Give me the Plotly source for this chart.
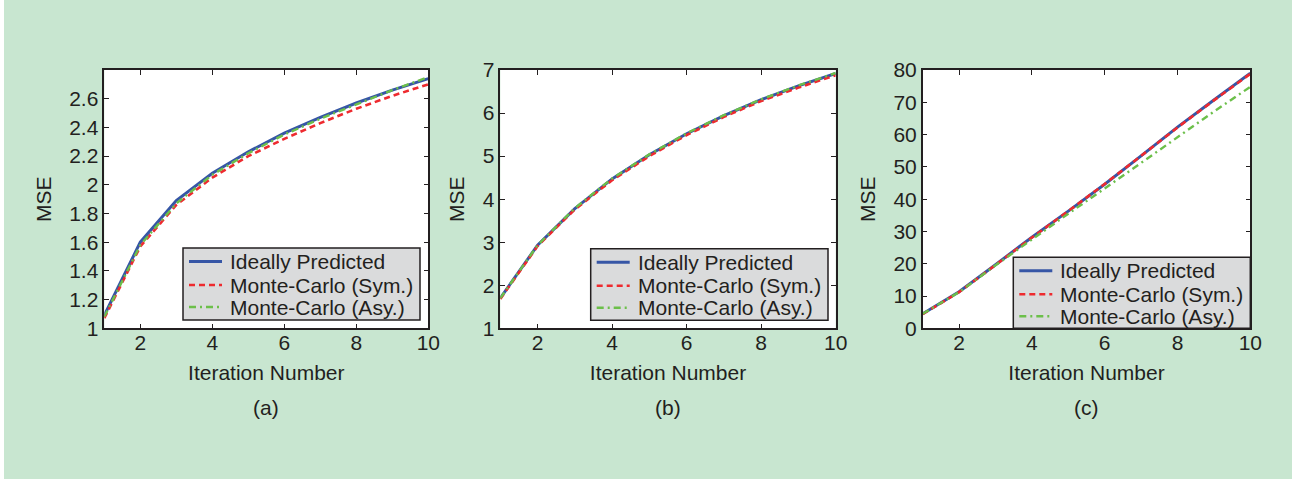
import plotly.graph_objects as go

# Iteration index shared by all three panels
iterations = [1, 2, 3, 4, 5, 6, 7, 8, 9, 10]

# Panel (a) MSE curves
a_ideal = [1.09, 1.60, 1.89, 2.08, 2.23, 2.36, 2.47, 2.57, 2.66, 2.74]
a_sym = [1.07, 1.57, 1.86, 2.05, 2.20, 2.32, 2.43, 2.53, 2.62, 2.70]
a_asy = [1.08, 1.58, 1.87, 2.07, 2.22, 2.35, 2.46, 2.56, 2.66, 2.75]

# Panel (b) MSE curves
b_ideal = [1.70, 2.93, 3.78, 4.47, 5.03, 5.52, 5.94, 6.31, 6.63, 6.92]
b_sym = [1.68, 2.91, 3.76, 4.44, 5.00, 5.49, 5.91, 6.28, 6.59, 6.88]
b_asy = [1.70, 2.93, 3.79, 4.48, 5.04, 5.53, 5.95, 6.32, 6.64, 6.93]

# Panel (c) MSE curves
c_ideal = [4.5, 11.3, 19.7, 28.2, 36.3, 44.6, 53.4, 62.3, 70.7, 79.0]
c_sym = [4.4, 11.2, 19.6, 28.1, 36.3, 44.7, 53.4, 62.2, 70.6, 78.8]
c_asy = [4.5, 11.2, 19.5, 27.6, 35.5, 43.3, 51.2, 59.3, 67.1, 74.8]

series_names = ["Ideally Predicted", "Monte-Carlo (Sym.)", "Monte-Carlo (Asy.)"]
panel_labels = ["(a)", "(b)", "(c)"]

a_ticks = [1, 1.2, 1.4, 1.6, 1.8, 2, 2.2, 2.4, 2.6]
b_ticks = [1, 2, 3, 4, 5, 6, 7]
c_ticks = [0, 10, 20, 30, 40, 50, 60, 70, 80]
x_ticks = [2, 4, 6, 8, 10]

W, H = 1298, 479
BG = "#c8e6d0"
INK = "#231f20"
FONT = "Liberation Sans, Arial, Helvetica, sans-serif"

styles = [
    dict(color="#3656a6", width=3, dash="solid"),
    dict(color="#ee2a2f", width=2.6, dash="6px,4px"),
    dict(color="#6cbf4a", width=2.4, dash="7px,4px,2px,4px"),
]

# plot-area boxes in pixels: left, right, top, bottom
boxes = [(104.3, 428.3, 70, 328.3), (500.3, 835.7, 70, 328.3), (922.7, 1250.3, 70, 328.3)]
y_ranges = [[1, 2.8], [1, 7], [0, 80]]
y_ticks = [a_ticks, b_ticks, c_ticks]
panels = [(a_ideal, a_sym, a_asy), (b_ideal, b_sym, b_asy), (c_ideal, c_sym, c_asy)]
# legend boxes in pixels: left, right, top, bottom
legend_boxes = [(183, 420, 248, 320), (590.7, 828, 248.7, 320.3), (1013.3, 1250.3, 257.3, 328.3)]
legend_rows = [13.5, 37, 59]


def px(x):
    return x / W


def py(y):
    return 1 - y / H


fig = go.Figure()
shapes = [
    dict(type="rect", xref="paper", yref="paper", x0=0, x1=px(4), y0=0, y1=1,
         fillcolor="white", line=dict(width=0), layer="below"),
    dict(type="rect", xref="paper", yref="paper", x0=px(1292), x1=1, y0=0, y1=1,
         fillcolor="white", line=dict(width=0), layer="below"),
]
annotations = []
layout = dict(
    width=W, height=H,
    margin=dict(l=0, r=0, t=0, b=0, pad=0, autoexpand=False),
    paper_bgcolor=BG, plot_bgcolor="white",
    font=dict(family=FONT, size=21, color=INK),
    showlegend=False,
)

for i, (curves, box) in enumerate(zip(panels, boxes)):
    n = "" if i == 0 else str(i + 1)
    xa, ya = "x" + n, "y" + n
    for name, vals, st in zip(series_names, curves, styles):
        fig.add_trace(go.Scatter(
            x=iterations, y=vals, mode="lines", name=name,
            line=st, xaxis=xa, yaxis=ya, showlegend=False,
        ))
    l, r, t, b = box
    axis_common = dict(
        showline=True, linecolor=INK, linewidth=1.5, mirror="ticks",
        ticks="inside", ticklen=5, tickwidth=1.2, tickcolor=INK,
        showgrid=False, zeroline=False, automargin=False,
        tickfont=dict(family=FONT, size=21, color=INK),
    )
    layout["xaxis" + n] = dict(
        axis_common, domain=[px(l), px(r)], range=[1, 10], tickvals=x_ticks,
        anchor=ya, ticklabelstandoff=-5,
        title=dict(text="Iteration Number", standoff=12,
                   font=dict(family=FONT, size=21, color=INK)),
    )
    layout["yaxis" + n] = dict(
        axis_common, domain=[py(b), py(t)], range=y_ranges[i],
        tickvals=y_ticks[i], anchor=xa,
        title=dict(text="MSE", standoff=12,
                   font=dict(family=FONT, size=21, color=INK)),
    )
    annotations.append(dict(
        text=panel_labels[i], xref="paper", yref="paper",
        x=px((l + r) / 2), y=py(407), xanchor="center", yanchor="middle",
        showarrow=False, font=dict(family=FONT, size=21, color=INK),
    ))

    # legend: grey box, line samples and entry labels
    gl, gr, gt, gb = legend_boxes[i]
    shapes.append(dict(
        type="rect", xref="paper", yref="paper",
        x0=px(gl), x1=px(gr), y0=py(gb), y1=py(gt),
        fillcolor="#dadbdc", line=dict(color=INK, width=1.5), layer="above",
    ))
    for name, st, dy in zip(series_names, styles, legend_rows):
        yy = py(gt + dy)
        shapes.append(dict(
            type="line", xref="paper", yref="paper",
            x0=px(gl + 6), x1=px(gl + 39), y0=yy, y1=yy,
            line=dict(color=st["color"], width=st["width"], dash=st["dash"]),
            layer="above",
        ))
        annotations.append(dict(
            text=name, xref="paper", yref="paper",
            x=px(gl + 45), y=yy, xanchor="left", yanchor="middle",
            showarrow=False, font=dict(family=FONT, size=21, color=INK),
        ))

layout["shapes"] = shapes
layout["annotations"] = annotations
fig.update_layout(**layout)
fig.write_html("out.html")
